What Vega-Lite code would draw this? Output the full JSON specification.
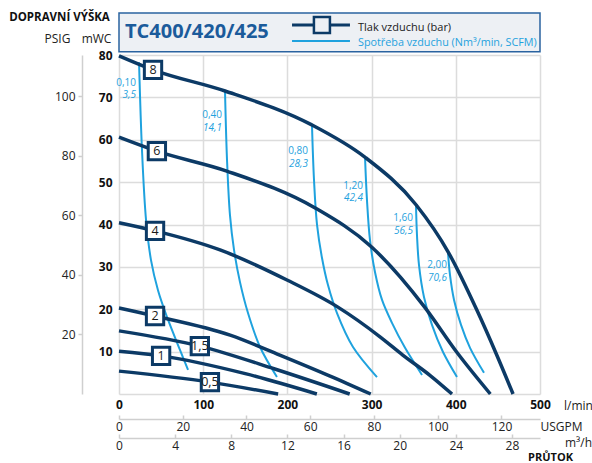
{
  "$schema": "https://vega.github.io/schema/vega-lite/v6.json",
  "width": 421,
  "height": 339,
  "autosize": "none",
  "padding": {"left": 119, "top": 55, "right": 52, "bottom": 69},
  "background": "white",
  "config": {"font": "Open Sans", "view": {"stroke": null}},
  "datasets": {
    "pressure": [
      {"c": "8", "q": 0, "h": 79.8}, {"c": "8", "q": 40.4, "h": 76.5}, {"c": "8", "q": 126, "h": 71.5}, {"c": "8", "q": 229, "h": 63.5}, {"c": "8", "q": 292, "h": 55.9}, {"c": "8", "q": 353, "h": 44.6}, {"c": "8", "q": 391, "h": 33.5}, {"c": "8", "q": 425, "h": 19.8}, {"c": "8", "q": 448, "h": 9.5}, {"c": "8", "q": 468, "h": 0},
      {"c": "6", "q": 0, "h": 60.6}, {"c": "6", "q": 45, "h": 57.3}, {"c": "6", "q": 128, "h": 52.6}, {"c": "6", "q": 233, "h": 43.9}, {"c": "6", "q": 300, "h": 34.7}, {"c": "6", "q": 363, "h": 20.5}, {"c": "6", "q": 401, "h": 9.9}, {"c": "6", "q": 441, "h": 0},
      {"c": "4", "q": 0, "h": 40.4}, {"c": "4", "q": 42.8, "h": 38.5}, {"c": "4", "q": 120, "h": 34}, {"c": "4", "q": 199.5, "h": 26.9}, {"c": "4", "q": 260, "h": 20.5}, {"c": "4", "q": 310, "h": 13.5}, {"c": "4", "q": 337, "h": 9.2}, {"c": "4", "q": 370, "h": 4.3}, {"c": "4", "q": 395.5, "h": 0},
      {"c": "2", "q": 0, "h": 20.3}, {"c": "2", "q": 42.8, "h": 18.4}, {"c": "2", "q": 132, "h": 13.9}, {"c": "2", "q": 191, "h": 9.2}, {"c": "2", "q": 250, "h": 4.3}, {"c": "2", "q": 299, "h": 0},
      {"c": "1,5", "q": 0, "h": 14.9}, {"c": "1,5", "q": 96, "h": 11.3}, {"c": "1,5", "q": 185, "h": 5.9}, {"c": "1,5", "q": 274, "h": 0},
      {"c": "1", "q": 0, "h": 10.1}, {"c": "1", "q": 50, "h": 9.0}, {"c": "1", "q": 150, "h": 4.8}, {"c": "1", "q": 235, "h": 0},
      {"c": "0,5", "q": 0, "h": 5.4}, {"c": "0,5", "q": 108, "h": 2.8}, {"c": "0,5", "q": 189, "h": 0}
    ],
    "consumption": [
      {"c": "0,10", "o": 1, "q": 23.8, "h": 78.3}, {"c": "0,10", "o": 2, "q": 27.3, "h": 57.6}, {"c": "0,10", "o": 3, "q": 32.1, "h": 41.1}, {"c": "0,10", "o": 4, "q": 38.0, "h": 31.6}, {"c": "0,10", "o": 5, "q": 46.3, "h": 24.5}, {"c": "0,10", "o": 6, "q": 57.0, "h": 18.2}, {"c": "0,10", "o": 7, "q": 72.4, "h": 10.4}, {"c": "0,10", "o": 8, "q": 82.0, "h": 5.7},
      {"c": "0,40", "o": 1, "q": 125.9, "h": 71.5}, {"c": "0,40", "o": 2, "q": 128.3, "h": 55.2}, {"c": "0,40", "o": 3, "q": 131.8, "h": 42.2}, {"c": "0,40", "o": 4, "q": 136.6, "h": 34.0}, {"c": "0,40", "o": 5, "q": 143.7, "h": 26.4}, {"c": "0,40", "o": 6, "q": 153.2, "h": 19.1}, {"c": "0,40", "o": 7, "q": 167.5, "h": 11.1}, {"c": "0,40", "o": 8, "q": 187.6, "h": 4.0},
      {"c": "0,80", "o": 1, "q": 229.2, "h": 63.5}, {"c": "0,80", "o": 2, "q": 231.6, "h": 50.5}, {"c": "0,80", "o": 3, "q": 235.2, "h": 39.9}, {"c": "0,80", "o": 4, "q": 241.1, "h": 32.1}, {"c": "0,80", "o": 5, "q": 248.2, "h": 25.7}, {"c": "0,80", "o": 6, "q": 258.9, "h": 19.1}, {"c": "0,80", "o": 7, "q": 277.9, "h": 11.1}, {"c": "0,80", "o": 8, "q": 306.4, "h": 4.0},
      {"c": "1,20", "o": 1, "q": 292.2, "h": 55.9}, {"c": "1,20", "o": 2, "q": 294.5, "h": 45.8}, {"c": "1,20", "o": 3, "q": 298.1, "h": 36.3}, {"c": "1,20", "o": 4, "q": 304.0, "h": 28.8}, {"c": "1,20", "o": 5, "q": 312.4, "h": 22.2}, {"c": "1,20", "o": 6, "q": 324.2, "h": 16.8}, {"c": "1,20", "o": 7, "q": 339.7, "h": 10.9}, {"c": "1,20", "o": 8, "q": 359.9, "h": 4.5},
      {"c": "1,60", "o": 1, "q": 352.7, "h": 44.6}, {"c": "1,60", "o": 2, "q": 353.9, "h": 37.5}, {"c": "1,60", "o": 3, "q": 356.3, "h": 30.4}, {"c": "1,60", "o": 4, "q": 362.2, "h": 22.9}, {"c": "1,60", "o": 5, "q": 371.7, "h": 16.3}, {"c": "1,60", "o": 6, "q": 384.8, "h": 9.9}, {"c": "1,60", "o": 7, "q": 401.4, "h": 4.0},
      {"c": "2,00", "o": 1, "q": 390.7, "h": 33.5}, {"c": "2,00", "o": 2, "q": 393.1, "h": 28.1}, {"c": "2,00", "o": 3, "q": 397.9, "h": 22.2}, {"c": "2,00", "o": 4, "q": 406.2, "h": 16.3}, {"c": "2,00", "o": 5, "q": 416.9, "h": 10.9}, {"c": "2,00", "o": 6, "q": 433.5, "h": 5.0}
    ],
    "boxes": [
      {"c": "8", "q": 40.4, "h": 76.5}, {"c": "6", "q": 45, "h": 57.3}, {"c": "4", "q": 42.8, "h": 38.5}, {"c": "2", "q": 42.8, "h": 18.4}, {"c": "1,5", "q": 96, "h": 11.3}, {"c": "1", "q": 50, "h": 9.0}, {"c": "0,5", "q": 108, "h": 2.8}
    ],
    "airlabels": [
      {"q": 20.2, "h": 73.4, "a": "0,10", "b": "3,5"},
      {"q": 122.3, "h": 65.8, "a": "0,40", "b": "14,1"},
      {"q": 224.5, "h": 57.3, "a": "0,80", "b": "28,3"},
      {"q": 289.8, "h": 49.1, "a": "1,20", "b": "42,4"},
      {"q": 349.2, "h": 41.5, "a": "1,60", "b": "56,5"},
      {"q": 389.5, "h": 30.4, "a": "2,00", "b": "70,6"}
    ],
    "titlebox": [{"q": 0, "q2": 500, "h": 80.75, "h2": 89.9}],
    "title": [{"q": 7.1, "h": 85.4, "t": "TC400/420/425"}],
    "legendlines": [
      {"s": "p", "q": 205.5, "h": 87.1}, {"s": "p", "q": 274.3, "h": 87.1},
      {"s": "c", "q": 205.5, "h": 83.3}, {"s": "c", "q": 274.3, "h": 83.3}
    ],
    "legendbox": [{"q": 241, "h": 87.1}],
    "legendtext": [
      {"s": "p", "q": 283.8, "h": 86.4, "t": "Tlak vzduchu (bar)"},
      {"s": "c", "q": 283.8, "h": 82.8, "t": "Spotřeba vzduchu (Nm³/min, SCFM)"}
    ],
    "dummy": [{"v": 0}]
  },
  "layer": [
    {
      "encoding": {
        "x": {
          "field": "q", "type": "quantitative",
          "scale": {"domain": [0, 500], "nice": false, "zero": false},
          "axis": {
            "orient": "bottom", "values": [0, 100, 200, 300, 400, 500],
            "grid": true, "gridColor": "#dcdcdc", "gridWidth": 1.5,
            "domain": false, "ticks": false,
            "labelFontWeight": "bold", "labelFontSize": 12, "labelColor": "#111111", "labelPadding": 5,
            "labelFlush": false, "labelOverlap": false,
            "title": "l/min", "titleX": 459, "titleY": 11, "titleAlign": "center", "titleBaseline": "middle",
            "titleFontWeight": "normal", "titleFontSize": 12, "titleColor": "#222222"
          }
        },
        "y": {
          "field": "h", "type": "quantitative",
          "scale": {"domain": [0, 80], "nice": false, "zero": false},
          "axis": {
            "orient": "left", "values": [0, 10, 20, 30, 40, 50, 60, 70, 80],
            "labelExpr": "datum.value == 0 ? '' : datum.label",
            "grid": true, "gridColor": "#dcdcdc", "gridWidth": 1.5,
            "domain": false, "ticks": false,
            "labelFontWeight": "bold", "labelFontSize": 12, "labelColor": "#111111", "labelPadding": 7,
            "labelOverlap": false,
            "title": "mWC", "titleAngle": 0, "titleX": -23, "titleY": -17, "titleAlign": "center", "titleBaseline": "middle",
            "titleFontWeight": "normal", "titleFontSize": 12, "titleColor": "#222222"
          }
        }
      },
      "layer": [
        {
          "data": {"name": "titlebox"},
          "mark": {"type": "rect", "fill": "#edf0f4", "stroke": "#2a63a0", "strokeWidth": 1.5},
          "encoding": {"x2": {"field": "q2"}, "y2": {"field": "h2"}}
        },
        {
          "data": {"name": "consumption"},
          "mark": {"type": "line", "color": "#1fa2de", "strokeWidth": 2, "interpolate": "catmull-rom"},
          "encoding": {"detail": {"field": "c"}, "order": {"field": "o", "type": "quantitative"}}
        },
        {
          "data": {"name": "pressure"},
          "mark": {"type": "line", "color": "#0c3a66", "strokeWidth": 3.5, "interpolate": "monotone"},
          "encoding": {"detail": {"field": "c"}}
        },
        {
          "data": {"name": "boxes"},
          "mark": {"type": "point", "shape": "square", "size": 300, "filled": true, "fill": "white", "stroke": "#0c3a66", "strokeWidth": 3, "opacity": 1}
        },
        {
          "data": {"name": "boxes"},
          "mark": {"type": "text", "fontSize": 12.5, "color": "#1a1a1a", "align": "center", "baseline": "middle"},
          "encoding": {"text": {"field": "c"}}
        },
        {
          "data": {"name": "airlabels"},
          "mark": {"type": "text", "fontSize": 10, "color": "#1fa2de", "align": "right", "baseline": "middle"},
          "encoding": {"text": {"field": "a"}}
        },
        {
          "data": {"name": "airlabels"},
          "mark": {"type": "text", "fontSize": 10, "fontStyle": "italic", "color": "#1fa2de", "align": "right", "baseline": "middle", "dy": 12.5},
          "encoding": {"text": {"field": "b"}}
        },
        {
          "data": {"name": "title"},
          "mark": {"type": "text", "fontSize": 20, "fontWeight": "bold", "color": "#1b5b9b", "align": "left", "baseline": "middle"},
          "encoding": {"text": {"field": "t"}}
        },
        {
          "data": {"name": "legendlines"},
          "transform": [{"filter": "datum.s == 'p'"}],
          "mark": {"type": "line", "color": "#0c3a66", "strokeWidth": 3},
          "encoding": {}
        },
        {
          "data": {"name": "legendlines"},
          "transform": [{"filter": "datum.s == 'c'"}],
          "mark": {"type": "line", "color": "#1fa2de", "strokeWidth": 2},
          "encoding": {}
        },
        {
          "data": {"name": "legendbox"},
          "mark": {"type": "point", "shape": "square", "size": 256, "filled": true, "fill": "#edf0f4", "stroke": "#0c3a66", "strokeWidth": 2.5, "opacity": 1}
        },
        {
          "data": {"name": "legendtext"},
          "transform": [{"filter": "datum.s == 'p'"}],
          "mark": {"type": "text", "fontSize": 11, "color": "#1a1a1a", "align": "left", "baseline": "middle"},
          "encoding": {"text": {"field": "t"}}
        },
        {
          "data": {"name": "legendtext"},
          "transform": [{"filter": "datum.s == 'c'"}],
          "mark": {"type": "text", "fontSize": 10.8, "color": "#1fa2de", "align": "left", "baseline": "middle"},
          "encoding": {"text": {"field": "t"}}
        }
      ]
    },
    {
      "data": {"name": "dummy"},
      "mark": {"type": "rule", "opacity": 0},
      "encoding": {
        "y": {
          "field": "v", "type": "quantitative",
          "scale": {"domain": [0, 113.78], "nice": false, "zero": false},
          "axis": {
            "orient": "left", "offset": 37, "values": [20, 40, 60, 80, 100], "grid": false,
            "domain": true, "domainColor": "#cfcfcf", "domainWidth": 1.5,
            "ticks": true, "tickColor": "#cfcfcf", "tickSize": 4, "tickWidth": 1.5,
            "labelPadding": 3, "labelFontSize": 12, "labelColor": "#222222", "labelOverlap": false,
            "title": "PSIG", "titleAngle": 0, "titleX": -25, "titleY": -17, "titleAlign": "center", "titleBaseline": "middle",
            "titleFontWeight": "normal", "titleFontSize": 12, "titleColor": "#222222"
          }
        }
      }
    },
    {
      "data": {"name": "dummy"},
      "mark": {"type": "rule", "opacity": 0},
      "encoding": {
        "y": {
          "field": "v", "type": "quantitative",
          "scale": {"domain": [0, 80], "nice": false, "zero": false},
          "axis": {
            "orient": "left", "offset": 0, "grid": false, "domain": false, "ticks": false, "labels": false,
            "title": "DOPRAVNÍ VÝŠKA", "titleAngle": 0, "titleX": -60, "titleY": -38, "titleAlign": "center", "titleBaseline": "middle",
            "titleFontWeight": "bold", "titleFontSize": 11.5, "titleColor": "#111111"
          }
        }
      }
    },
    {
      "data": {"name": "dummy"},
      "mark": {"type": "rule", "opacity": 0},
      "encoding": {
        "x": {
          "field": "v", "type": "quantitative",
          "scale": {"domain": [0, 132.09], "nice": false, "zero": false},
          "axis": {
            "orient": "bottom", "offset": 25, "values": [0, 20, 40, 60, 80, 100, 120], "grid": false,
            "domain": true, "domainColor": "#cfcfcf", "domainWidth": 1.5,
            "ticks": true, "tickColor": "#cfcfcf", "tickSize": -4, "tickWidth": 1.5,
            "labelPadding": 6, "labelFontSize": 12, "labelColor": "#222222", "labelFlush": false, "labelOverlap": false,
            "title": "USGPM", "titleX": 442, "titleY": 7, "titleAlign": "center", "titleBaseline": "middle",
            "titleFontWeight": "normal", "titleFontSize": 12, "titleColor": "#222222"
          }
        }
      }
    },
    {
      "data": {"name": "dummy"},
      "mark": {"type": "rule", "opacity": 0},
      "encoding": {
        "x": {
          "field": "v", "type": "quantitative",
          "scale": {"domain": [0, 30], "nice": false, "zero": false},
          "axis": {
            "orient": "bottom", "offset": 44, "values": [0, 4, 8, 12, 16, 20, 24, 28], "grid": false,
            "domain": true, "domainColor": "#cfcfcf", "domainWidth": 1.5,
            "ticks": true, "tickColor": "#cfcfcf", "tickSize": -4, "tickWidth": 1.5,
            "labelPadding": 6, "labelFontSize": 12, "labelColor": "#222222", "labelFlush": false, "labelOverlap": false,
            "title": "m³/h", "titleX": 459, "titleY": 4, "titleAlign": "center", "titleBaseline": "middle",
            "titleFontWeight": "normal", "titleFontSize": 12, "titleColor": "#222222"
          }
        }
      }
    },
    {
      "data": {"name": "dummy"},
      "mark": {"type": "rule", "opacity": 0},
      "encoding": {
        "x": {
          "field": "v", "type": "quantitative",
          "scale": {"domain": [0, 500], "nice": false, "zero": false},
          "axis": {
            "orient": "bottom", "offset": 0, "grid": false, "domain": false, "ticks": false, "labels": false,
            "title": "PRŮTOK", "titleX": 431, "titleY": 63, "titleAlign": "center", "titleBaseline": "middle",
            "titleFontWeight": "bold", "titleFontSize": 11, "titleColor": "#111111"
          }
        }
      }
    }
  ],
  "resolve": {
    "scale": {"x": "independent", "y": "independent"},
    "axis": {"x": "independent", "y": "independent"}
  }
}
